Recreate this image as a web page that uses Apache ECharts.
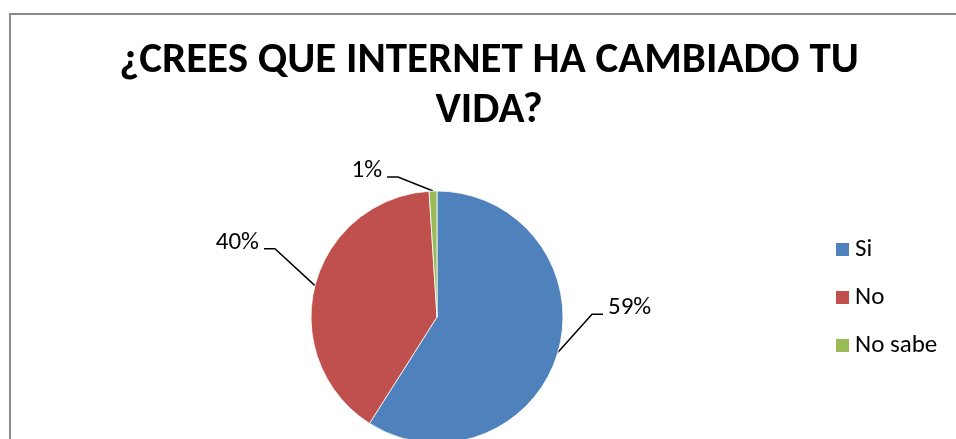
<!DOCTYPE html>
<html>
<head>
<meta charset="utf-8">
<script src="https://cdn.jsdelivr.net/npm/echarts@6/dist/echarts.min.js"></script>
<style>
  html, body { margin: 0; padding: 0; background: #fff; }
  #chart { width: 956px; height: 439px; }
</style>
</head>
<body>
<div id="chart"></div>
<script>
// Survey answers and their shares (percent)
const categories = ['Si', 'No', 'No sabe'];
const shares = [59, 40, 1];
const sliceColors = ['#4F81BD', '#C0504D', '#9BBB59'];

const titleText = '¿CREES QUE INTERNET HA CAMBIADO TU\nVIDA?';

// Leader-line elbow offsets from the slice edge (layout styling, px)
const elbowOffsets = [[34, -38], [-40, -37], [-35, -14]];
const tailLength = 11;

const FONT = '"Carlito", "Liberation Sans", Arial, sans-serif';

const chart = echarts.init(document.getElementById('chart'), null, { renderer: 'canvas' });

chart.setOption({
  backgroundColor: '#ffffff',
  animation: false,
  color: sliceColors,
  title: {
    text: titleText,
    left: 489,
    top: 36,
    padding: 0,
    textAlign: 'center',
    textStyle: {
      fontFamily: FONT,
      fontSize: 43,
      fontWeight: 'bold',
      lineHeight: 50,
      color: '#000'
    }
  },
  legend: {
    orient: 'vertical',
    left: 834,
    top: 237,
    padding: 0,
    itemGap: 23,
    itemWidth: 15,
    itemHeight: 15,
    icon: 'rect',
    data: categories,
    textStyle: {
      fontFamily: FONT,
      fontSize: 25,
      lineHeight: 22,
      color: '#000'
    }
  },
  graphic: [{
    type: 'rect',
    silent: true,
    z: -10,
    shape: { x: 10, y: 14, width: 1200, height: 600 },
    style: { fill: null, stroke: '#898989', lineWidth: 2 }
  }],
  series: [{
    type: 'pie',
    center: [437, 317],
    radius: 126,
    startAngle: 90,
    clockwise: true,
    avoidLabelOverlap: false,
    data: categories.map((name, i) => ({ name: name, value: shares[i] })),
    itemStyle: { borderColor: '#ffffff', borderWidth: 0.8 },
    label: {
      show: true,
      position: 'outside',
      formatter: '{c}%',
      fontFamily: FONT,
      fontSize: 25,
      color: '#000'
    },
    labelLine: {
      show: true,
      length: 20,
      length2: 10,
      lineStyle: { color: '#000', width: 1.5 }
    },
    emphasis: { disabled: true },
    labelLayout: function (params) {
      const i = params.dataIndex;
      const p = params.labelLinePoints[0];
      const off = elbowOffsets[i];
      const dir = off[0] >= 0 ? 1 : -1;
      const elbow = [p[0] + off[0], p[1] + off[1]];
      const tail = [elbow[0] + dir * tailLength, elbow[1]];
      return {
        x: tail[0] + dir * 5,
        y: tail[1] - 6,
        align: dir > 0 ? 'left' : 'right',
        verticalAlign: 'middle',
        labelLinePoints: [p, elbow, tail]
      };
    }
  }]
});
</script>
</body>
</html>
